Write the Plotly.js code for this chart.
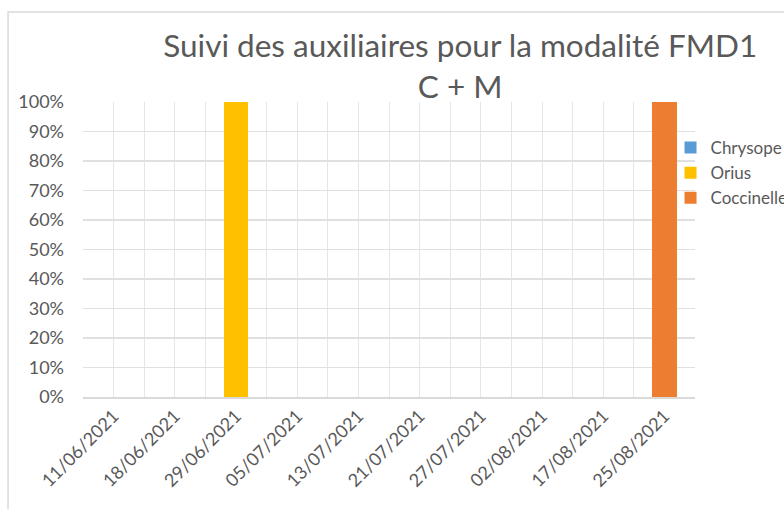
<!DOCTYPE html>
<html>
<head>
<meta charset="utf-8">
<script src="https://cdn.plot.ly/plotly-3.0.1.min.js"></script>
<style>html,body{margin:0;padding:0;background:#fff;}#chart{width:784px;height:509px;}</style>
</head>
<body>
<div id="chart"></div>
<script>
const categories = ["11/06/2021","18/06/2021","29/06/2021","05/07/2021","13/07/2021","21/07/2021","27/07/2021","02/08/2021","17/08/2021","25/08/2021"];
const chrysope   = [0,0,0,0,0,0,0,0,0,0];
const orius      = [0,0,1,0,0,0,0,0,0,0];
const coccinelle = [0,0,0,0,0,0,0,0,0,1];
const yTicks = [0,10,20,30,40,50,60,70,80,90,100];

const idx = categories.map((c,i)=>i);
const boundaries = categories.map((c,i)=>i-0.5).concat([categories.length-0.5]);
const font = "Lato, 'Open Sans', sans-serif";
const txt = "#595959";

function tr(name, vals, color){
  return {type:"bar", name:name, x:idx, y:vals, marker:{color:color}, hoverinfo:"name+y"};
}
const data = [
  tr("Chrysope", chrysope, "#5B9BD5"),
  tr("Orius", orius, "#FFC000"),
  tr("Coccinelle", coccinelle, "#ED7D31")
];
const layout = {
  width:784, height:509,
  margin:{l:83, r:89, t:102, b:112, autoexpand:false},
  paper_bgcolor:"#fff", plot_bgcolor:"#fff",
  barmode:"stack", barnorm:"percent", bargap:0.6,
  font:{family:font, color:txt},
  title:{text:"Suivi des auxiliaires pour la modalité FMD1<br>C + M", xref:"container", x:0.587, xanchor:"center", yref:"container", y:0.888, yanchor:"top", font:{family:font, size:31.5, color:txt}},
  showlegend:true,
  legend:{x:0.96, xanchor:"left", y:0.905, yanchor:"top", traceorder:"normal", font:{size:17, color:txt}, bgcolor:"rgba(0,0,0,0)", tracegroupgap:0},
  xaxis:{range:[-0.5, categories.length-0.5], tickmode:"array", tickvals:idx, ticktext:categories, tickangle:-45,
         showgrid:true, gridcolor:"#e6e6e6", gridwidth:1, zeroline:false, fixedrange:true,
         showline:true, linecolor:"#d9d9d9", linewidth:1.5, ticks:"", tickfont:{size:18, color:txt},
         minor:{tickmode:"array", tickvals:boundaries, showgrid:true, gridcolor:"#e6e6e6", gridwidth:1, ticks:""}},
  yaxis:{range:[0,100], tickmode:"array", tickvals:yTicks, ticktext:yTicks.map(v=>v+"%"),
         showgrid:true, gridcolor:"#e0e0e0", gridwidth:1.5, zeroline:false, showline:false, ticks:"",
         ticklabelstandoff:18, tickfont:{size:18, color:txt}, fixedrange:true},
  shapes:[{type:"rect", xref:"paper", yref:"paper", x0:-0.1225, x1:1.5, y0:-0.5, y1:1.305, line:{color:"#d9d9d9", width:1.5}, fillcolor:"rgba(0,0,0,0)", layer:"below"}]
};
Plotly.newPlot("chart", data, layout, {displayModeBar:false, staticPlot:true});
</script>
</body>
</html>
